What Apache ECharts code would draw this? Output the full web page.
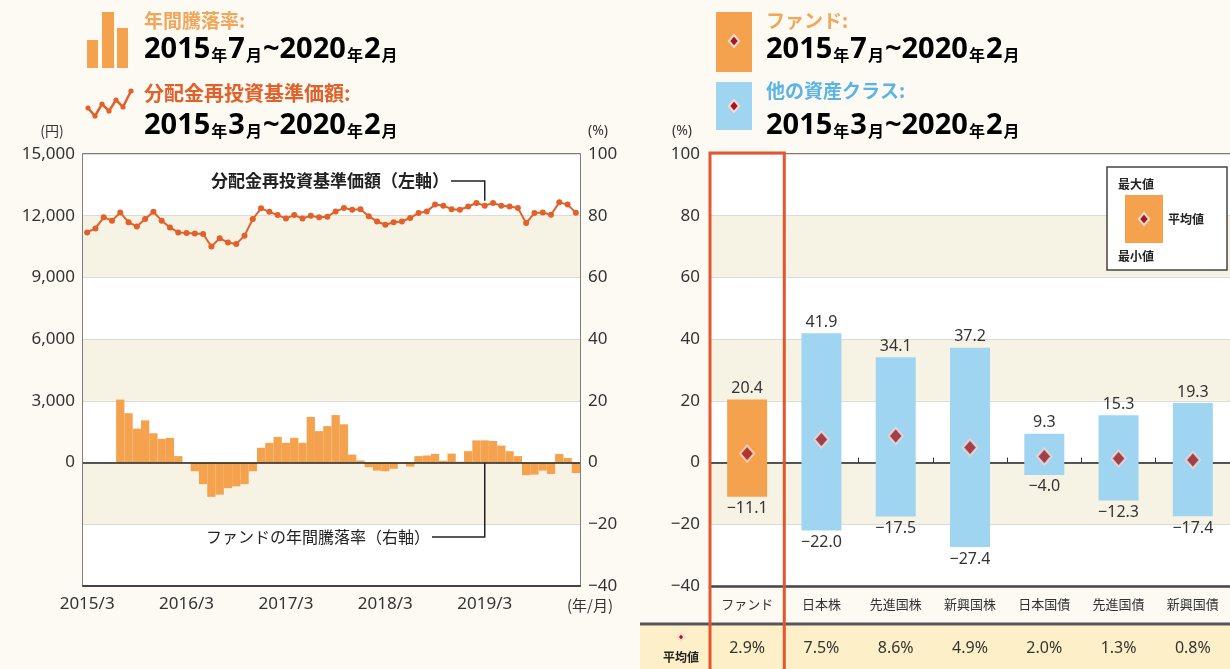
<!DOCTYPE html>
<html>
<head>
<meta charset="utf-8">
<script src="https://cdn.jsdelivr.net/npm/echarts@6/dist/echarts.min.js"></script>
<style>
  html, body { margin: 0; padding: 0; background: #fcfaf3; }
  #main { width: 1230px; height: 669px; }
</style>
</head>
<body>
<div id="main"></div>
<script>
// 月次カテゴリ 2015/3 ~ 2020/2
const months = [
  '2015/3', '2015/4', '2015/5', '2015/6', '2015/7', '2015/8', '2015/9', '2015/10', '2015/11', '2015/12',
  '2016/1', '2016/2', '2016/3', '2016/4', '2016/5', '2016/6', '2016/7', '2016/8', '2016/9', '2016/10', '2016/11', '2016/12',
  '2017/1', '2017/2', '2017/3', '2017/4', '2017/5', '2017/6', '2017/7', '2017/8', '2017/9', '2017/10', '2017/11', '2017/12',
  '2018/1', '2018/2', '2018/3', '2018/4', '2018/5', '2018/6', '2018/7', '2018/8', '2018/9', '2018/10', '2018/11', '2018/12',
  '2019/1', '2019/2', '2019/3', '2019/4', '2019/5', '2019/6', '2019/7', '2019/8', '2019/9', '2019/10', '2019/11', '2019/12',
  '2020/1', '2020/2'
];
// 分配金再投資基準価額（円）
const navValues = [
  11190, 11380, 11920, 11760, 12160, 11680, 11480, 11840, 12190, 11760,
  11430, 11190, 11160, 11140, 11110, 10500, 10900, 10700, 10620, 11030,
  11840, 12360, 12190, 12030, 11870, 12030, 11870, 12000, 11920, 11950,
  12210, 12370, 12290, 12320, 11970, 11720, 11560, 11680, 11720, 11890,
  12130, 12210, 12540, 12490, 12320, 12290, 12450, 12620, 12490, 12620,
  12490, 12450, 12370, 11640, 12130, 12160, 12050, 12650, 12540, 12150
];
// ファンドの年間騰落率（%）2015/7 から
const fundReturns = [
  null, null, null, null,
  20.4, 16.0, 11.0, 13.7, 9.5, 7.7, 8.0, 2.1, 0.1, -2.8,
  -7.0, -11.1, -10.4, -8.3, -7.7, -7.0, -2.8, 4.8, 6.4, 8.3,
  6.4, 8.0, 6.4, 14.8, 10.2, 11.8, 15.4, 12.4, 2.6, 0.7,
  -1.5, -2.6, -2.8, -2.0, -0.3, -1.3, 2.1, 2.3, 2.8, 0.6,
  2.9, 0.3, 3.7, 7.2, 7.2, 7.0, 5.5, 3.7, 2.1, -4.1,
  -3.9, -2.6, -3.7, 2.8, 1.5, -3.4
];

// 資産クラス比較
const assetNames = ['ファンド', '日本株', '先進国株', '新興国株', '日本国債', '先進国債', '新興国債'];
const maxVals = [20.4, 41.9, 34.1, 37.2, 9.3, 15.3, 19.3];
const minVals = [-11.1, -22.0, -17.5, -27.4, -4.0, -12.3, -17.4];
const avgVals = [2.9, 7.5, 8.6, 4.9, 2.0, 1.3, 0.8];

const FUND = '#f5a24e';
const OTHER = '#a0d5f2';
const NAV = '#e2602a';
const BEIGE = '#f6f2e4';
const DIAMOND = '#9e1b22';
const TXT = '#333';
const NUMFONT = '"Noto Sans", "Noto Sans CJK JP", sans-serif';
const JPFONT = '"Noto Sans CJK JP", sans-serif';

const minus = v => String(v).replace('-', '−');
const fmt1 = v => minus(v.toFixed(1));

const chart = echarts.init(document.getElementById('main'));

chart.setOption({
  animation: false,
  textStyle: { fontFamily: NUMFONT },
  grid: [
    { left: 83, top: 154, width: 497, height: 432, show: true, backgroundColor: '#fff', borderColor: '#555', borderWidth: 1.5 },
    { left: 710, top: 154, width: 520, height: 432, show: true, backgroundColor: '#fff', borderColor: '#555', borderWidth: 1.5 }
  ],
  xAxis: [
    {
      gridIndex: 0, type: 'category', data: months, boundaryGap: true,
      axisLine: { onZero: false, lineStyle: { color: '#444', width: 2 } },
      axisTick: { inside: true, alignWithLabel: true, length: 7, interval: (i) => i > 0 && i % 12 === 0, lineStyle: { color: '#444', width: 1.5 } },
      axisLabel: { interval: 11, color: TXT, fontSize: 17, margin: 10 },
      splitLine: { show: false }
    },
    {
      gridIndex: 1, type: 'category', data: assetNames,
      axisLine: { onZero: false, lineStyle: { color: '#444', width: 2.5 } },
      axisTick: { show: false },
      axisLabel: { color: TXT, fontSize: 13, margin: 12, fontFamily: JPFONT },
      splitLine: { show: false }
    },
    {
      gridIndex: 1, type: 'category', data: assetNames, position: 'bottom',
      axisLine: { onZero: true, lineStyle: { color: '#222', width: 1.5 } },
      axisTick: { show: true, inside: true, length: 5, lineStyle: { color: '#333' } },
      axisLabel: { show: false },
      splitLine: { show: false }
    }
  ],
  yAxis: [
    {
      gridIndex: 0, type: 'value', min: -6000, max: 15000, interval: 3000, position: 'left',
      axisLine: { show: false }, axisTick: { show: false },
      axisLabel: { color: TXT, fontSize: 17, margin: 8, formatter: v => v < 0 ? '' : v.toLocaleString('en-US') },
      splitLine: { lineStyle: { color: '#dcdcd6', width: 1 } },
      splitArea: { show: true, areaStyle: { color: ['#ffffff', BEIGE] } }
    },
    {
      gridIndex: 0, type: 'value', min: -40, max: 100, interval: 20, position: 'right',
      axisLine: { show: false }, axisTick: { show: false },
      axisLabel: { color: TXT, fontSize: 17, margin: 8, formatter: v => minus(v) },
      splitLine: { show: false }
    },
    {
      gridIndex: 1, type: 'value', min: -40, max: 100, interval: 20, position: 'left',
      axisLine: { show: false }, axisTick: { show: false },
      axisLabel: { color: TXT, fontSize: 17, margin: 10, formatter: v => minus(v) },
      splitLine: { lineStyle: { color: '#dcdcd6', width: 1 } },
      splitArea: { show: true, areaStyle: { color: ['#ffffff', BEIGE] } }
    }
  ],
  series: [
    {
      type: 'bar', xAxisIndex: 0, yAxisIndex: 1, data: fundReturns,
      barCategoryGap: '0%', itemStyle: { color: FUND },
      markLine: {
        silent: true, symbol: ['none', 'none'], label: { show: false },
        lineStyle: { color: '#222', width: 1.5, type: 'solid' },
        data: [{ yAxis: 0 }]
      }
    },
    {
      type: 'line', xAxisIndex: 0, yAxisIndex: 0, data: navValues,
      symbol: 'circle', symbolSize: 6, showAllSymbol: true,
      lineStyle: { color: NAV, width: 2 }, itemStyle: { color: NAV }, z: 3
    },
    {
      type: 'custom', xAxisIndex: 1, yAxisIndex: 2,
      data: assetNames.map((n, i) => [i, minVals[i], maxVals[i]]),
      encode: { x: 0, y: [1, 2] },
      renderItem: (params, api) => {
        const i = api.value(0);
        const lo = api.value(1), hi = api.value(2);
        const pHi = api.coord([i, hi]);
        const pLo = api.coord([i, lo]);
        const w = 40;
        const font = '16px ' + NUMFONT;
        return {
          type: 'group',
          children: [
            { type: 'rect', shape: { x: pHi[0] - w / 2, y: pHi[1], width: w, height: pLo[1] - pHi[1] }, style: { fill: i === 0 ? FUND : OTHER } },
            { type: 'text', x: pHi[0], y: pHi[1] - 3, style: { text: fmt1(hi), align: 'center', verticalAlign: 'bottom', fill: TXT, font: font } },
            { type: 'text', x: pLo[0], y: pLo[1] + 4, style: { text: fmt1(lo), align: 'center', verticalAlign: 'top', fill: TXT, font: font } }
          ]
        };
      },
      z: 2
    },
    {
      type: 'scatter', xAxisIndex: 1, yAxisIndex: 2, data: avgVals,
      symbol: 'diamond', symbolSize: [14, 16],
      itemStyle: { color: DIAMOND, borderColor: '#fcd9cf', borderWidth: 2 },
      z: 5
    }
  ]
});

// 注記・凡例など（軸の座標から位置を求める）
const px = (finder, v) => chart.convertToPixel(finder, v);
const fundX = px({ xAxisIndex: 1 }, assetNames[0]);
const band = px({ xAxisIndex: 1 }, assetNames[1]) - fundX;
const annX = px({ xAxisIndex: 0 }, months[48]);
const navY = px({ yAxisIndex: 0 }, navValues[48]);
const zeroY = px({ yAxisIndex: 1 }, 0);

const dateRich = {
  n: { fontSize: 29, fontWeight: 'bold', color: '#222', fontFamily: NUMFONT },
  u: { fontSize: 16, fontWeight: 'bold', color: '#222', fontFamily: JPFONT, padding: [9, 1, 0, 1] }
};
const dateText = (y1, m1, y2, m2) => `{n|${y1}}{u|年}{n|${m1}}{u|月}{n|~${y2}}{u|年}{n|${m2}}{u|月}`;
const diamond = (cx, cy, r) => ({
  type: 'polygon', shape: { points: [[cx, cy - r], [cx + r * 0.85, cy], [cx, cy + r], [cx - r * 0.85, cy]] },
  style: { fill: DIAMOND, stroke: '#fcd9cf', lineWidth: 2 }
});
const label = (x, y, text, extra) => ({
  type: 'text', x: x, y: y, z: 6,
  style: Object.assign({ text: text, fill: TXT, font: '16px ' + NUMFONT, verticalAlign: 'middle' }, extra || {})
});

const navIcon = [[88, 108], [95, 116], [102, 104], [109, 111], [116, 100], [123, 107], [131, 91]];

const graphics = [
  // 左：凡例
  { type: 'rect', shape: { x: 87, y: 40, width: 11, height: 28 }, style: { fill: FUND } },
  { type: 'rect', shape: { x: 102, y: 12, width: 12, height: 56 }, style: { fill: FUND } },
  { type: 'rect', shape: { x: 117, y: 28, width: 11, height: 40 }, style: { fill: FUND } },
  label(144, 21, '年間騰落率:', { fill: '#f2a65a', font: 'bold 19px ' + JPFONT }),
  { type: 'text', x: 144, y: 50, style: { text: dateText(2015, 7, 2020, 2), rich: dateRich, verticalAlign: 'middle' } },
  { type: 'polyline', shape: { points: navIcon }, style: { stroke: NAV, lineWidth: 2.5, fill: null } },
  label(144, 93, '分配金再投資基準価額:', { fill: NAV, font: 'bold 20px ' + JPFONT }),
  { type: 'text', x: 144, y: 126, style: { text: dateText(2015, 3, 2020, 2), rich: dateRich, verticalAlign: 'middle' } },
  label(52, 131, '(円)', { align: 'center', font: '14px ' + JPFONT }),
  label(598, 131, '(%)', { align: 'center', font: '14px ' + NUMFONT }),
  label(590, 605, '(年/月)', { align: 'center', font: '15px ' + JPFONT }),

  // 左：注記
  label(449, 181, '分配金再投資基準価額（左軸）', { align: 'right', fill: '#222', font: 'bold 17px ' + JPFONT }),
  { type: 'polyline', shape: { points: [[451, 181], [annX, 181], [annX, navY - 5]] }, style: { stroke: '#222', lineWidth: 1.5, fill: null } },
  label(430, 537, 'ファンドの年間騰落率（右軸）', { align: 'right', fill: '#222', font: '16px ' + JPFONT }),
  { type: 'polyline', shape: { points: [[432, 537], [annX, 537], [annX, zeroY]] }, style: { stroke: '#222', lineWidth: 1.5, fill: null } },

  // 右：凡例
  { type: 'rect', shape: { x: 716, y: 12, width: 36, height: 60 }, style: { fill: FUND } },
  diamond(734, 41, 6),
  label(766, 21, 'ファンド:', { fill: '#f2a65a', font: 'bold 19px ' + JPFONT }),
  { type: 'text', x: 766, y: 50, style: { text: dateText(2015, 7, 2020, 2), rich: dateRich, verticalAlign: 'middle' } },
  { type: 'rect', shape: { x: 716, y: 82, width: 36, height: 48 }, style: { fill: OTHER } },
  diamond(734, 106, 6),
  label(766, 91, '他の資産クラス:', { fill: '#5ab4e4', font: 'bold 19px ' + JPFONT }),
  { type: 'text', x: 766, y: 126, style: { text: dateText(2015, 3, 2020, 2), rich: dateRich, verticalAlign: 'middle' } },
  label(682, 131, '(%)', { align: 'center', font: '14px ' + NUMFONT }),

  // 右：グラフ内の凡例ボックス
  { type: 'rect', shape: { x: 1107, y: 167, width: 120, height: 103 }, style: { fill: '#fff', stroke: '#444', lineWidth: 1.5 }, z: 10 },
  { type: 'rect', shape: { x: 1125, y: 195, width: 38, height: 48 }, style: { fill: FUND }, z: 11 },
  Object.assign(diamond(1144, 219, 6), { z: 12 }),
  Object.assign(label(1118, 184, '最大値', { font: 'bold 12px ' + JPFONT, fill: '#222' }), { z: 12 }),
  Object.assign(label(1168, 219, '平均値', { font: 'bold 12px ' + JPFONT, fill: '#222' }), { z: 12 }),
  Object.assign(label(1118, 256, '最小値', { font: 'bold 12px ' + JPFONT, fill: '#222' }), { z: 12 }),

  // 右：平均値の表
  { type: 'rect', shape: { x: 640, y: 626, width: 590, height: 43 }, style: { fill: '#fdf0c8' }, z: 1 },
  { type: 'line', shape: { x1: 640, y1: 624, x2: 1230, y2: 624 }, style: { stroke: '#555', lineWidth: 3 }, z: 2 },
  Object.assign(diamond(681, 637, 4), { z: 3 }),
  label(681, 657, '平均値', { align: 'center', font: 'bold 12px ' + JPFONT, fill: '#222' }),

  // ファンド列の赤枠
  { type: 'rect', shape: { x: fundX - band / 2, y: 153, width: band, height: 530 }, style: { fill: null, stroke: '#e4572e', lineWidth: 3 }, z: 20 }
];

// 凡例アイコンの点
navIcon.forEach(p => graphics.push({ type: 'circle', shape: { cx: p[0], cy: p[1], r: 2.6 }, style: { fill: NAV } }));

assetNames.forEach((n, i) => {
  graphics.push(label(px({ xAxisIndex: 1 }, n), 648, avgVals[i].toFixed(1) + '%', { align: 'center', font: '16px ' + NUMFONT }));
});

chart.setOption({ graphic: graphics });
</script>
</body>
</html>
